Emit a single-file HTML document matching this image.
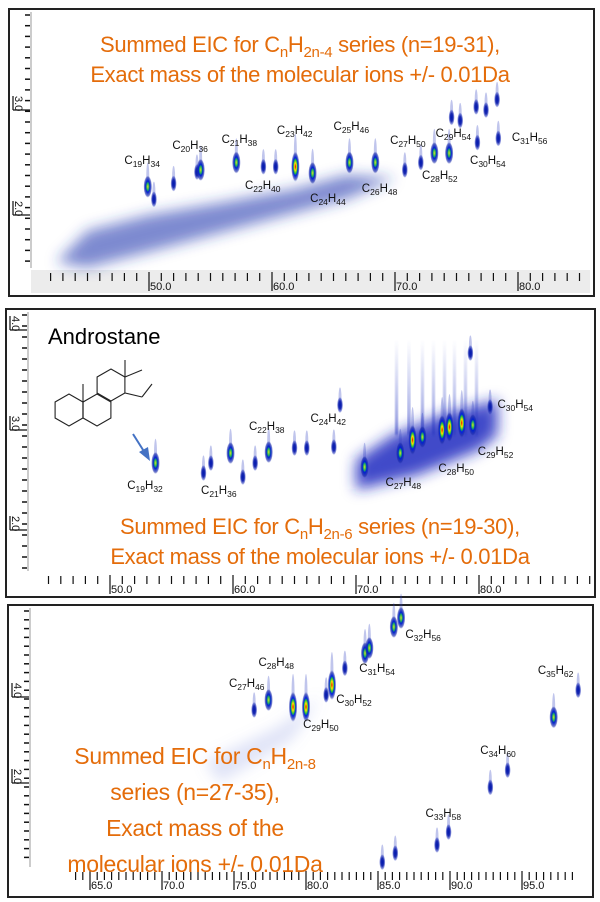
<!DOCTYPE html>
<html><head><meta charset="utf-8"><style>
html,body{margin:0;padding:0;background:#fff;}
#wrap{position:relative;width:600px;height:902px;overflow:hidden;font-family:"Liberation Sans",sans-serif;}
.ttl{position:absolute;color:#E46C0A;font-size:22px;text-align:center;white-space:nowrap;line-height:30px;font-family:"Liberation Sans",sans-serif;letter-spacing:-0.3px}
.ttl sub{font-size:15px;vertical-align:-5px;line-height:0}
.lbl{position:absolute;font-size:11.5px;color:#111;white-space:nowrap;line-height:12px}
.lbl sub{font-size:8.5px;vertical-align:-3px;line-height:0}
</style></head><body>
<div id="wrap">
<svg id="svg" width="600" height="902" style="position:absolute;left:0;top:0">
<defs>
<radialGradient id="hot"><stop offset="0" stop-color="#e00000"/><stop offset="0.25" stop-color="#ffe000"/><stop offset="0.45" stop-color="#20c040"/><stop offset="0.6" stop-color="#0020e0"/><stop offset="0.85" stop-color="#1a2aa8" stop-opacity="0.6"/><stop offset="1" stop-color="#3040c0" stop-opacity="0"/></radialGradient>
<radialGradient id="warm"><stop offset="0" stop-color="#e0e020"/><stop offset="0.3" stop-color="#20b060"/><stop offset="0.5" stop-color="#0020d0"/><stop offset="0.85" stop-color="#1a2aa8" stop-opacity="0.6"/><stop offset="1" stop-color="#3040c0" stop-opacity="0"/></radialGradient>
<radialGradient id="cool"><stop offset="0" stop-color="#0018b0"/><stop offset="0.5" stop-color="#1a2ab0"/><stop offset="0.85" stop-color="#3040c0" stop-opacity="0.5"/><stop offset="1" stop-color="#5060d0" stop-opacity="0"/></radialGradient>
<linearGradient id="streak" x1="0" y1="1" x2="0" y2="0"><stop offset="0" stop-color="#2838c0" stop-opacity="0.7"/><stop offset="1" stop-color="#5060d0" stop-opacity="0"/></linearGradient>
<filter id="blur" x="-20%" y="-50%" width="140%" height="200%"><feGaussianBlur stdDeviation="7"/></filter>
<filter id="blur2"><feGaussianBlur stdDeviation="1.2"/></filter>
</defs>
</svg>

<div class="ttl" style="left:0;width:600px;top:30px">Summed EIC for C<sub>n</sub>H<sub>2n-4</sub> series (n=19-31),<br>Exact mass of the molecular ions +/- 0.01Da</div>
<div class="ttl" style="left:40px;width:560px;top:512px">Summed EIC for C<sub>n</sub>H<sub>2n-6</sub> series (n=19-30),<br>Exact mass of the molecular ions +/- 0.01Da</div>
<div class="ttl" style="left:30px;width:330px;top:738px;line-height:36px;font-size:23px">Summed EIC for C<sub>n</sub>H<sub>2n-8</sub><br>series (n=27-35),<br>Exact mass of the<br>molecular ions +/- 0.01Da</div>
<div style="position:absolute;left:48px;top:324px;font-size:22px;color:#000">Androstane</div>
</div>
<script>
const NS='http://www.w3.org/2000/svg';
const svg=document.getElementById('svg');
const wrap=document.getElementById('wrap');
function el(t,a,p){const e=document.createElementNS(NS,t);for(const k in a)e.setAttribute(k,a[k]);(p||svg).appendChild(e);return e;}

const panels=[
 {box:[9,9,585,287],x0:50,px0:149,kx:12.3,s0:3,py0:110,ky:105,xmin:42,xmax:85,step:1,major:10,stripY:268,yTicks:[3.0,2.0],ytk:10.7},
 {box:[6,309,589,288],x0:50,px0:110,kx:12.3,s0:3,py0:430,ky:100,xmin:45,xmax:89,step:1,major:10,stripY:571,yTicks:[4.0,3.0,2.0],ytk:11},
 {box:[8,605,585,292],x0:65,px0:90,kx:14.4,s0:4,py0:697,ky:43,xmin:64,xmax:98.5,step:0.5,major:5,stripY:867,yTicks:[4.0,2.0],ytk:8.8}
];
function X(p,t){return p.px0+(t-p.x0)*p.kx;}
function Y(p,s){return p.py0-(s-p.s0)*p.ky;}

// Data: peaks [rt1 (min), rt2 (s), intensity 1..3]
const p1Peaks=[[49.9,2.27,2],[50.4,2.15,1],[52.0,2.3,1],[53.9,2.41,1],[54.2,2.43,2],[57.1,2.5,2],[59.3,2.46,1],[60.3,2.46,1],[61.9,2.46,3],[63.3,2.4,2],[66.3,2.5,2],[68.4,2.5,2],[70.8,2.43,1],[72.1,2.5,1],[73.2,2.59,2],[74.4,2.59,2],[74.6,2.93,1],[75.3,2.9,1],[76.7,2.69,1],[76.6,3.03,1],[77.4,3.0,1],[78.4,2.73,1],[78.3,3.1,1]];
const p2Peaks=[[53.7,2.67,2],[57.6,2.57,1],[58.2,2.67,1],[59.8,2.77,2],[60.8,2.53,1],[61.8,2.67,1],[62.9,2.78,2],[65.0,2.82,1],[66.0,2.82,1],[68.2,2.83,1],[68.7,3.25,1],[70.7,2.63,2],[73.6,2.77,2],[74.6,2.9,3],[75.4,2.93,2],[77.0,3.0,3],[77.6,3.03,3],[78.6,3.07,3],[79.5,3.05,2],[80.9,3.23,1],[79.3,3.77,1]];
const p3Peaks=[[76.4,3.70,1],[77.4,3.93,2],[79.1,3.77,3],[80.0,3.77,3],[81.8,4.28,3],[81.4,4.05,1],[82.7,4.67,1],[84.1,5.02,2],[84.4,5.14,2],[86.1,5.63,2],[86.6,5.84,2],[97.2,3.53,2],[98.9,4.16,1],[92.8,1.9,1],[94.0,2.3,1],[89.1,0.56,1],[89.9,0.86,1],[85.3,0.16,1],[86.2,0.37,1]];
const peakSets=[p1Peaks,p2Peaks,p3Peaks];

// Labels: [text html, rt1, rt2]
const p1Labels=[['C<sub>19</sub>H<sub>34</sub>',48.0,2.5],['C<sub>20</sub>H<sub>36</sub>',51.9,2.64],['C<sub>21</sub>H<sub>38</sub>',55.9,2.7],['C<sub>22</sub>H<sub>40</sub>',57.8,2.26],['C<sub>23</sub>H<sub>42</sub>',60.4,2.78],['C<sub>24</sub>H<sub>44</sub>',63.1,2.13],['C<sub>25</sub>H<sub>46</sub>',65.0,2.82],['C<sub>26</sub>H<sub>48</sub>',67.3,2.23],['C<sub>27</sub>H<sub>50</sub>',69.6,2.69],['C<sub>28</sub>H<sub>52</sub>',72.2,2.35],['C<sub>29</sub>H<sub>54</sub>',73.3,2.75],['C<sub>30</sub>H<sub>54</sub>',76.1,2.5],['C<sub>31</sub>H<sub>56</sub>',79.5,2.71]];
const p2Labels=[['C<sub>19</sub>H<sub>32</sub>',51.4,2.42],['C<sub>21</sub>H<sub>36</sub>',57.4,2.37],['C<sub>22</sub>H<sub>38</sub>',61.3,3.01],['C<sub>24</sub>H<sub>42</sub>',66.3,3.09],['C<sub>27</sub>H<sub>48</sub>',72.4,2.45],['C<sub>28</sub>H<sub>50</sub>',76.7,2.59],['C<sub>29</sub>H<sub>52</sub>',79.9,2.76],['C<sub>30</sub>H<sub>54</sub>',81.5,3.23]];
const p3Labels=[['C<sub>27</sub>H<sub>46</sub>',74.65,4.26],['C<sub>28</sub>H<sub>48</sub>',76.7,4.74],['C<sub>29</sub>H<sub>50</sub>',79.8,3.30],['C<sub>30</sub>H<sub>52</sub>',82.1,3.88],['C<sub>31</sub>H<sub>54</sub>',83.7,4.6],['C<sub>32</sub>H<sub>56</sub>',86.9,5.4],['C<sub>35</sub>H<sub>62</sub>',96.1,4.56],['C<sub>34</sub>H<sub>60</sub>',92.1,2.7],['C<sub>33</sub>H<sub>58</sub>',88.3,1.23]];
const labelSets=[p1Labels,p2Labels,p3Labels];

panels.forEach((p,i)=>{
  const [bx,by,bw,bh]=p.box;
  const g=el('g',{});
  
  
  el('rect',{x:bx,y:by,width:bw,height:bh,fill:'#fff',stroke:'#222','stroke-width':2},g);
  el('rect',{x:bx+22,y:p.stripY+2,width:bw-26,height:bx+bh-p.stripY-5,fill:'#ececec'},g);
  el('line',{x1:bx+22,y1:by+3,x2:bx+22,y2:p.stripY,stroke:'#999','stroke-width':1},g);
  if(i===0){
    const c=el('path',{d:`M${X(p,42.5)},${Y(p,1.55)} L${X(p,45)},${Y(p,1.85)} L${X(p,50)},${Y(p,2.0)} L${X(p,56)},${Y(p,2.12)} L${X(p,62)},${Y(p,2.25)} L${X(p,66)},${Y(p,2.38)} L${X(p,70)},${Y(p,2.35)} L${X(p,66)},${Y(p,2.15)} L${X(p,58)},${Y(p,1.9)} L${X(p,50)},${Y(p,1.65)} L${X(p,45)},${Y(p,1.5)} Z`,fill:'#2a3bb0','fill-opacity':0.6,filter:'url(#blur)'},g);
    
    
  }
  if(i===1){
    const c=el('path',{d:`M${X(p,70)},${Y(p,2.4)} L${X(p,75)},${Y(p,2.55)} L${X(p,80)},${Y(p,2.8)} L${X(p,81.5)},${Y(p,2.95)} L${X(p,81.5)},${Y(p,3.3)} L${X(p,77)},${Y(p,3.15)} L${X(p,73)},${Y(p,2.95)} L${X(p,70)},${Y(p,2.7)} Z`,fill:'#1c2cc0','fill-opacity':0.85,filter:'url(#blur)'},g);
    
    
    [73.3,74.3,75.4,76.3,77.2,78.0,78.9,79.8].forEach(t=>{
      const s=el('rect',{x:X(p,t)-1.5,y:Y(p,3.9),width:3,height:Y(p,2.95)-Y(p,3.9),fill:'url(#streak)',filter:'url(#blur2)'},g);
      
      
    });
  }
  if(i===2){
    const c=el('path',{d:`M${X(p,73)},${Y(p,2.5)} L${X(p,78)},${Y(p,3.3)} L${X(p,81)},${Y(p,4.0)} L${X(p,79)},${Y(p,3.0)} L${X(p,74)},${Y(p,2.0)} Z`,fill:'#8090e0','fill-opacity':0.25,filter:'url(#blur)'},g);
    
    
  }
  peakSets[i].forEach(pk=>{
    const cx=X(p,pk[0]),cy=Y(p,pk[1]);
    const gr=pk[2]>=3?'hot':pk[2]>=2?'warm':'cool';
    const ry=pk[2]>=3?15:pk[2]>=2?11:8;
    const tail=el('ellipse',{cx:cx,cy:cy-ry*0.9,rx:1.5,ry:ry*1.3,fill:'#3040c0','fill-opacity':0.3},g);
    
    
    const e=el('ellipse',{cx:cx,cy:cy,rx:pk[2]>=2?4.2:3,ry:ry,fill:`url(#${gr})`},g);
    
    
  });
  for(let t=p.xmin;t<=p.xmax+1e-6;t+=p.step){
    const x=X(p,t);if(x<bx+26||x>bx+bw-3)continue;
    const isMaj=Math.abs(t/p.major-Math.round(t/p.major))<1e-6;
    if(isMaj){
      const l=el('line',{x1:x,y1:p.stripY+4,x2:x,y2:p.stripY+23,stroke:'#111','stroke-width':1.2},g);
      
      
      const tx=el('text',{x:x+1,y:p.stripY+22,'font-size':11,fill:'#111','font-family':'Liberation Sans, sans-serif'},g);
      tx.textContent=t.toFixed(1);
      
      
    } else {
      const l=el('line',{x1:x,y1:p.stripY+5,x2:x,y2:p.stripY+13,stroke:'#111','stroke-width':1.2},g);
      
      
    }
  }
  for(let y=by+6;y<p.stripY-2;y+=p.ytk){
    const l=el('line',{x1:bx+16,y1:y,x2:bx+21,y2:y,stroke:'#111','stroke-width':1.5},g);
    
    
  }
  p.yTicks.forEach(v=>{
    const y=Y(p,v);
    el('line',{x1:bx+4,y1:y,x2:bx+21,y2:y,stroke:'#111','stroke-width':1.2},g);
    el('line',{x1:bx+4,y1:y,x2:bx+4,y2:y-14,stroke:'#111','stroke-width':1.2},g);
    const tx=el('text',{x:0,y:0,'font-size':11,fill:'#111','font-family':'Liberation Sans, sans-serif',transform:`translate(${bx+6},${y-14}) rotate(90)`},g);
    tx.textContent=v.toFixed(1);
    
    
  });
  labelSets[i].forEach(lb=>{
    const d=document.createElement('div');
    d.className='lbl';
    d.innerHTML=lb[0];
    d.style.left=X(p,lb[1])+'px';
    d.style.top=(Y(p,lb[2])-8)+'px';
    
    
    wrap.appendChild(d);
  });
});

// Androstane structure + arrow
const st=el('g',{fill:'none',stroke:'#222','stroke-width':1.1});


const hex=(cx,cy,r)=>{let pts=[];for(let k=0;k<6;k++){const a=Math.PI/6+k*Math.PI/3;pts.push((cx+r*Math.cos(a)).toFixed(1)+','+(cy+r*Math.sin(a)).toFixed(1));}el('polygon',{points:pts.join(' ')},st);};
hex(69,410,16);hex(97,410,16);hex(111,385,16);
el('line',{x1:83,y1:402,x2:83,y2:384},st);
el('line',{x1:125,y1:377,x2:125,y2:360},st);
el('line',{x1:125,y1:377,x2:142,y2:370},st);
el('line',{x1:125,y1:393,x2:142,y2:397},st);
el('line',{x1:142,y1:397,x2:152,y2:384},st);
const ar=el('g',{});


el('line',{x1:133,y1:434,x2:145,y2:453,stroke:'#4472C4','stroke-width':2},ar);
el('polygon',{points:'150,461 139,452 148,447',fill:'#4472C4'},ar);
</script>
</body></html>
